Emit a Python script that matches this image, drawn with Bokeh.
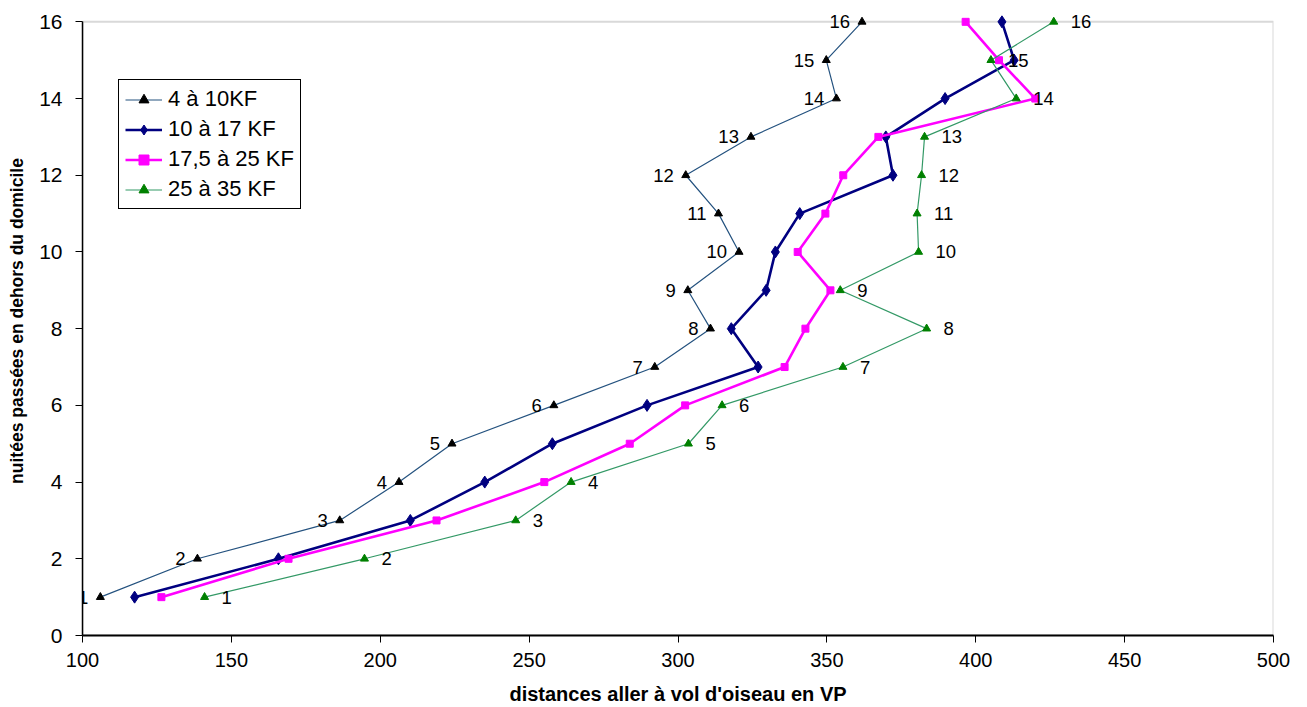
from bokeh.plotting import figure
from bokeh.models import (ColumnDataSource, LabelSet, Label, BoxAnnotation,
                          Range1d, FixedTicker)
from bokeh.core.properties import value
from bokeh.embed import file_html
from bokeh.resources import INLINE

# Nights spent away from home (y) against one-way crow-flies distance in km (x)
nights = list(range(1, 17))
dist_4_10 = [106.0, 138.6, 186.4, 206.3, 224.1, 258.3, 292.2, 310.9,
             303.3, 320.5, 313.6, 302.6, 324.5, 353.2, 349.8, 361.8]
dist_10_17 = [117.5, 165.8, 210.1, 235.1, 257.8, 289.6, 326.9, 317.9,
              329.6, 332.7, 340.9, 372.2, 369.8, 389.7, 412.9, 408.8]
dist_17_25 = [126.5, 169.2, 218.9, 255.1, 283.8, 302.4, 335.8, 342.8,
              351.2, 340.2, 349.5, 355.5, 367.3, 420.0, 407.8, 396.6]
dist_25_35 = [141.0, 194.7, 245.5, 264.1, 303.5, 314.8, 355.4, 383.5,
              354.5, 380.8, 380.3, 381.8, 382.8, 413.6, 405.1, 426.2]

series_names = ["4 à 10KF", "10 à 17 KF", "17,5 à 25 KF", "25 à 35 KF"]
x_ticks = [100, 150, 200, 250, 300, 350, 400, 450, 500]
y_ticks = [0, 2, 4, 6, 8, 10, 12, 14, 16]

FONT = "Liberation Sans"

p = figure(width=1307, height=707,
           x_range=Range1d(100, 500), y_range=Range1d(0, 16.4),
           output_backend="svg", toolbar_location=None,
           min_border_left=82, min_border_right=34,
           min_border_top=6, min_border_bottom=72)
p.outline_line_color = None
p.xgrid.visible = False
p.ygrid.visible = False
p.background_fill_color = "white"
p.border_fill_color = "white"

# grey plot-area frame (left/bottom are covered by the axes)
p.add_layout(BoxAnnotation(left=100, right=500, bottom=0, top=16,
                           fill_alpha=0, line_color="#808080",
                           line_width=2, level="underlay"))

for ax, ticks, bnds in ((p.xaxis, x_ticks, (100, 500)), (p.yaxis, y_ticks, (0, 16))):
    ax.ticker = FixedTicker(ticks=ticks)
    ax.bounds = bnds
    ax.axis_line_color = "black"
    ax.major_tick_line_color = "black"
    ax.major_tick_in = 0
    ax.major_tick_out = 7
    ax.minor_tick_line_color = None
    ax.major_label_text_font = FONT
    ax.major_label_text_color = "black"
    ax.axis_label_text_font = FONT
    ax.axis_label_text_font_style = "bold"
    ax.axis_label_text_color = "black"

p.xaxis.axis_line_width = 2
p.yaxis.axis_line_width = 1.5
p.xaxis.major_label_text_font_size = "20px"
p.yaxis.major_label_text_font_size = "21px"
p.xaxis.axis_label_text_font_size = "20px"
p.yaxis.axis_label_text_font_size = "17.5px"
p.xaxis.axis_label = "distances aller à vol d'oiseau en VP"
p.yaxis.axis_label = "nuitées passées en dehors du domicile"
p.xaxis.major_label_standoff = 10
p.yaxis.major_label_standoff = 13
p.xaxis.axis_label_standoff = 13
p.yaxis.axis_label_standoff = 9

# series
p.line(dist_4_10, nights, line_color="#24527F", line_width=1.2,
       legend_label=series_names[0])
p.scatter(dist_4_10, nights, marker="triangle", size=8, color="black",
          legend_label=series_names[0])

p.line(dist_10_17, nights, line_color="#000080", line_width=2.6,
       legend_label=series_names[1])
p.scatter(dist_10_17, nights, marker="diamond", size=12, color="#000080",
          legend_label=series_names[1])

p.line(dist_17_25, nights, line_color="#FF00FF", line_width=2.6,
       legend_label=series_names[2])
p.scatter(dist_17_25, nights, marker="square", size=7, color="#FF00FF",
          legend_label=series_names[2])

p.line(dist_25_35, nights, line_color="#339966", line_width=1.2,
       legend_label=series_names[3])
p.scatter(dist_25_35, nights, marker="triangle", size=8, color="#008000",
          legend_label=series_names[3])

# night-count labels beside the lowest- and highest-income series
left_src = ColumnDataSource(dict(x=dist_4_10, y=nights,
                                 t=[str(n) for n in nights]))
right_src = ColumnDataSource(dict(x=dist_25_35, y=nights,
                                  t=[str(n) for n in nights]))
p.add_layout(LabelSet(x="x", y="y", text="t", source=left_src,
                      x_offset=-12, text_align="right", text_baseline="middle",
                      text_font=value(FONT), text_font_size=value("18.5px"),
                      text_color="black"))
p.add_layout(LabelSet(x="x", y="y", text="t", source=right_src,
                      x_offset=17, text_align="left", text_baseline="middle",
                      text_font=value(FONT), text_font_size=value("18.5px"),
                      text_color="black"))

p.add_layout(Label(x=500, y=0.6, text="km", x_offset=5,
                   text_align="left", text_baseline="middle",
                   text_font=FONT, text_font_size="20px", text_color="black"))

leg = p.legend[0]
leg.location = (36, 426)
leg.border_line_color = "black"
leg.border_line_width = 1
leg.border_line_alpha = 1
leg.background_fill_color = "white"
leg.background_fill_alpha = 1
leg.label_text_font = FONT
leg.label_text_font_size = "22px"
leg.label_text_color = "black"
leg.glyph_width = 37
leg.glyph_height = 25
leg.label_height = 25
leg.label_standoff = 6
leg.spacing = 4
leg.padding = 6
leg.margin = 0

open("out.html", "w").write(file_html(p, INLINE))
